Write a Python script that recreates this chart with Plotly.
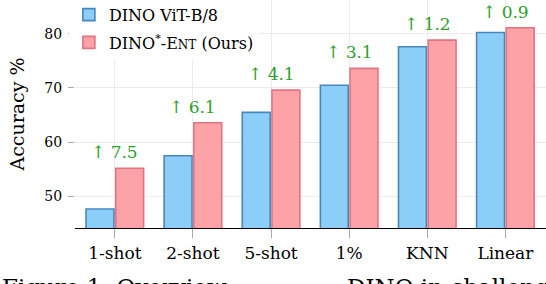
import plotly.graph_objects as go

categories = ["1-shot", "2-shot", "5-shot", "1%", "KNN", "Linear"]
dino_vals = [47.7, 57.5, 65.5, 70.5, 77.6, 80.2]
ours_vals = [55.2, 63.6, 69.6, 73.6, 78.8, 81.1]
gain_labels = ["↑ 7.5", "↑ 6.1", "↑ 4.1", "↑ 3.1", "↑ 1.2", "↑ 0.9"]
y_ticks = [50, 60, 70, 80]

FONT = "DejaVu Serif"

fig = go.Figure()
fig.add_trace(go.Bar(
    x=categories, y=dino_vals, name="DINO ViT-B/8", legendgroup="a",
    marker=dict(color="#8BCFF8", line=dict(color="#4A86BE", width=1.6)),
))
fig.add_trace(go.Bar(
    x=categories, y=ours_vals, legendgroup="b",
    name="DINO<sup>*</sup>-E<span style='font-size:12px'>NT</span> (Ours)",
    marker=dict(color="#FDA3A8", line=dict(color="#E27482", width=1.6)),
))

for c, v, t in zip(categories, ours_vals, gain_labels):
    fig.add_annotation(x=c, y=v, text=t, showarrow=False, yanchor="bottom",
                       yshift=4, font=dict(family=FONT, size=17, color="#2CA02C"))

cap_y = -44 / 228
fig.add_annotation(xref="paper", yref="paper", x=-75/471, y=cap_y, xanchor="left",
                   yanchor="top", showarrow=False,
                   text="Figure 1: Overview",
                   font=dict(family=FONT, size=23, color="black"))
fig.add_annotation(xref="paper", yref="paper", x=(345 - 75)/471, y=cap_y, xanchor="left",
                   yanchor="top", showarrow=False,
                   text="DINO in challenging",
                   font=dict(family=FONT, size=23, color="black"))

fig.update_layout(
    width=546, height=284,
    margin=dict(l=75, r=0, t=0, b=56, autoexpand=False),
    paper_bgcolor="white", plot_bgcolor="white",
    barmode="group", bargap=0.24, bargroupgap=0.06,
    font=dict(family=FONT, size=16, color="black"),
    showlegend=True,
    legend=dict(x=-0.013, y=1.01, xanchor="left", yanchor="top",
                bgcolor="white", font=dict(family=FONT, size=16),
                itemwidth=30, tracegroupgap=4, borderwidth=0),
    xaxis=dict(range=[-0.51, 5.52], showgrid=True, gridcolor="#EBEBEB",
               showline=True, linecolor="black", linewidth=1.3,
               ticks="outside", ticklen=9, tickcolor="#AAAAAA", automargin=False,
               tickfont=dict(family=FONT, size=17)),
    yaxis=dict(range=[44.2, 86.2], tickvals=y_ticks, showgrid=True,
               gridcolor="#EBEBEB", showline=False, zeroline=False,
               ticks="outside", ticklen=6, tickcolor="#AAAAAA", automargin=False,
               ticklabelstandoff=3,
               tickfont=dict(family=FONT, size=14),
               title=dict(text="Accuracy %", font=dict(family=FONT, size=19), standoff=14)),
)

fig.write_html("out.html", config={"displayModeBar": False},
               post_script="document.body.style.margin='0px';")
